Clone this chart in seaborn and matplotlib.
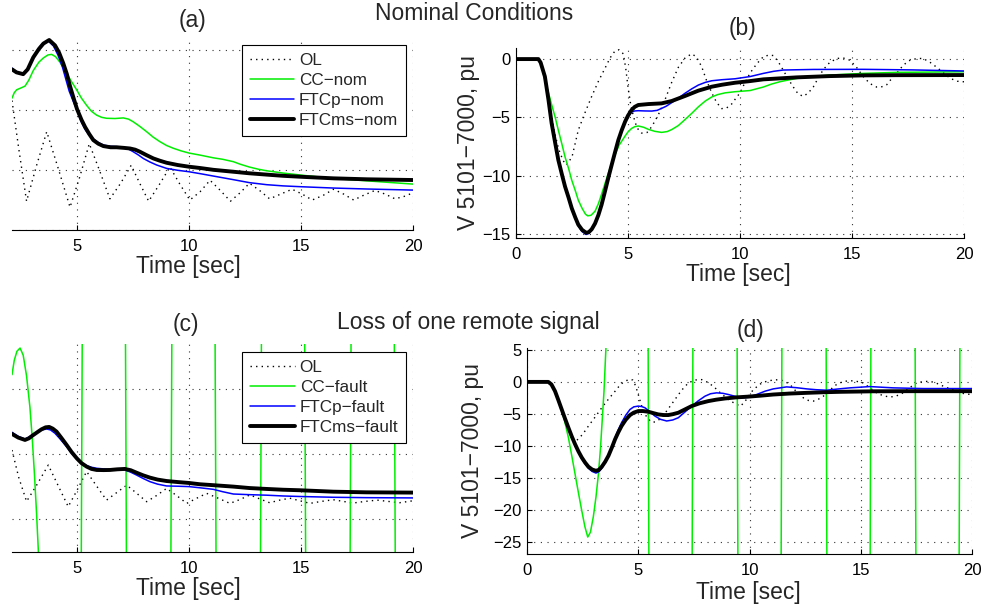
import matplotlib
matplotlib.use("Agg")
import matplotlib.pyplot as plt
import seaborn as sns

sns.set_style("white")
plt.rcParams['font.family'] = ['Liberation Sans', 'DejaVu Sans']
plt.rcParams['axes.unicode_minus'] = True

# ---------------- data ----------------
# (a) nominal conditions, left signal (axis cropped in the original)
a_ol_t = [2.1, 2.4, 2.75, 3.2, 3.65, 4.17, 4.69, 5.12, 5.55, 6.0, 6.47, 6.95, 7.42, 7.8, 8.2, 8.68,
          9.15, 9.6, 10.04, 10.5, 10.94, 11.4, 11.85, 12.28, 12.7, 13.15, 13.6, 14.1, 14.6, 15.05,
          15.5, 16.0, 16.45, 16.9, 17.35, 17.8, 18.3, 18.75, 19.2, 19.6, 20.0]
a_ol = [5.8, 1.8, -2.6, 0.4, 3.2, 0.1, -3.1, -0.6, 2.2, 0.0, -2.4, -1.1, 0.4, -1.1, -2.6, -1.2,
        0.25, -1.2, -2.5, -1.8, -0.85, -1.7, -2.6, -1.9, -1.1, -1.7, -2.4, -2.0, -1.6, -2.0,
        -2.5, -2.1, -1.6, -2.0, -2.5, -2.1, -1.7, -2.0, -2.4, -2.2, -1.9]

a_cc_t = [2.1, 2.2, 2.31, 2.5, 2.68, 2.85, 3.05, 3.3, 3.5, 3.7, 3.87, 4.05, 4.24, 4.4, 4.54, 4.75,
          5.0, 5.2, 5.43, 5.65, 5.88, 6.1, 6.32, 6.7, 7.07, 7.3, 7.51, 7.8, 8.11, 8.4, 8.71, 9.0,
          9.3, 9.65, 10.0, 10.49, 11.09, 11.5, 11.98, 12.3, 12.7, 13.1, 13.47, 14.2, 15.0, 16.45,
          17.94, 20.0]
a_cc = [6.0, 6.45, 6.7, 6.85, 7.0, 7.5, 8.3, 9.0, 9.35, 9.6, 9.65, 9.45, 9.0, 8.5, 8.05, 7.4,
        6.65, 6.0, 5.4, 4.9, 4.58, 4.4, 4.32, 4.3, 4.35, 4.25, 4.03, 3.65, 3.2, 2.75, 2.36, 2.05,
        1.82, 1.6, 1.42, 1.25, 1.02, 0.9, 0.7, 0.48, 0.25, 0.07, -0.06, -0.25, -0.42, -0.7,
        -0.9, -1.17]

a_ftcp_t = [2.1, 2.3, 2.6, 2.8, 3.05, 3.3, 3.5, 3.7, 3.95, 4.15, 4.35, 4.5, 4.65, 4.82, 5.0, 5.2,
            5.36, 5.55, 5.73, 5.95, 6.18, 6.5, 6.9, 7.2, 7.51, 7.75, 7.96, 8.25, 8.56, 9.0, 9.5,
            10.0, 10.5, 11.09, 11.98, 12.7, 13.47, 14.2, 15.0, 16.45, 17.94, 20.0]
a_ftcp = [8.5, 8.2, 8.0, 8.4, 9.45, 10.2, 10.6, 10.8, 10.35, 9.6, 8.6, 7.6, 6.6, 5.8, 5.0, 4.0,
          3.4, 2.9, 2.6, 2.3, 2.08, 1.98, 1.94, 1.85, 1.53, 1.25, 0.97, 0.68, 0.42, 0.14, -0.02,
          -0.14, -0.3, -0.5, -0.8, -1.05, -1.22, -1.32, -1.39, -1.5, -1.58, -1.67]

a_ftcms_t = [2.1, 2.3, 2.6, 2.8, 3.05, 3.3, 3.5, 3.76, 4.02, 4.2, 4.39, 4.55, 4.69, 4.85, 5.0, 5.2,
             5.36, 5.55, 5.73, 5.95, 6.18, 6.5, 6.77, 7.1, 7.37, 7.6, 7.81, 8.1, 8.41, 8.7, 9.0,
             9.5, 10.0, 10.5, 11.09, 11.98, 12.7, 13.47, 14.2, 15.0, 16.45, 17.94, 20.0]
a_ftcms = [8.4, 8.15, 8.0, 8.4, 9.4, 10.1, 10.55, 10.85, 10.4, 9.8, 8.9, 8.0, 7.0, 6.0, 5.1, 4.2,
           3.6, 3.0, 2.5, 2.2, 2.0, 1.9, 1.9, 1.85, 1.8, 1.7, 1.53, 1.25, 0.97, 0.78, 0.61,
           0.42, 0.28, 0.17, 0.02, -0.14, -0.27, -0.38, -0.48, -0.56, -0.69, -0.77, -0.83]

# (b) nominal conditions, V 5101-7000
b_ol_t = [0, 1.0, 1.15, 1.3, 1.5, 1.7, 1.9, 2.1, 2.25, 2.5, 2.78, 3.08, 3.38, 3.68, 3.97, 4.2,
          4.42, 4.6, 4.79, 4.9, 5.0, 5.12, 5.24, 5.4, 5.61, 5.85, 6.06, 6.35, 6.65, 6.95, 7.25,
          7.55, 7.84, 8.05, 8.29, 8.5, 8.74, 8.95, 9.18, 9.4, 9.63, 9.8, 10.0, 10.2, 10.45, 10.75,
          11.04, 11.3, 11.49, 11.7, 11.93, 12.15, 12.38, 12.6, 12.83, 13.05, 13.27, 13.5, 13.72,
          14.0, 14.32, 14.6, 14.91, 15.2, 15.5, 15.8, 16.1, 16.3, 16.55, 16.8, 17.0, 17.3, 17.59,
          17.9, 18.18, 18.5, 18.78, 19.1, 19.38, 19.7, 20.0]
b_ol = [0, 0, -0.5, -1.8, -4.0, -6.1, -7.7, -8.7, -9.1, -8.4, -6.1, -4.6, -3.2, -1.9, -0.8, 0.1,
        0.7, 0.8, 0.45, -0.8, -2.4, -3.9, -4.9, -5.9, -6.35, -6.3, -5.8, -4.8, -3.5, -2.0, -0.7,
        0.1, 0.45, 0.2, -0.66, -1.8, -2.9, -3.7, -4.25, -4.2, -3.85, -3.4, -2.9, -2.1, -1.2, -0.4,
        0.2, 0.35, 0.3, -0.2, -0.95, -1.7, -2.4, -3.0, -3.2, -2.9, -2.4, -1.6, -0.9,
        -0.3, 0.05, 0.1, -0.1, -0.7, -1.5, -2.1, -2.4, -2.4, -2.2, -1.6, -1.2, -0.5, -0.1,
        0.05, 0.05, -0.3, -0.7, -1.2, -1.65, -1.9, -1.95]

b_cc_t = [0, 1.0, 1.15, 1.3, 1.45, 1.59, 1.75, 1.89, 2.05, 2.19, 2.35, 2.49, 2.65, 2.78, 2.95, 3.1,
          3.2, 3.35, 3.53, 3.68, 3.82, 3.97, 4.12, 4.27, 4.42, 4.6, 4.87, 5.0, 5.16, 5.3, 5.46,
          5.7, 5.91, 6.2, 6.5, 6.75, 6.95, 7.25, 7.54, 7.85, 8.14, 8.45, 8.74, 9.0, 9.33, 9.78,
          10.45, 11.04, 11.4, 11.79, 12.2, 12.53, 13.2, 14.0, 15.5, 17.0, 20.0]
b_cc = [0, 0, -0.6, -1.9, -2.9, -3.9, -5.0, -6.1, -7.3, -8.4, -9.4, -10.4, -11.3, -12.1, -12.8, -13.3,
        -13.45, -13.4, -13.05, -12.4, -11.6, -10.7, -9.8, -8.95, -8.2, -7.4, -6.6, -6.25, -5.95, -5.8, -5.74,
        -5.85, -6.03, -6.2, -6.29, -6.22, -6.05, -5.7, -5.2, -4.65, -4.1, -3.6, -3.25, -3.05, -2.9, -2.8,
        -2.7, -2.4, -2.15, -1.94, -1.78, -1.66, -1.5, -1.37, -1.23, -1.14, -1.09]

b_ftcp_t = [0, 1.0, 1.1, 1.29, 1.45, 1.59, 1.75, 1.89, 2.05, 2.19, 2.35, 2.49, 2.65, 2.78, 2.95, 3.13,
            3.25, 3.38, 3.53, 3.68, 3.82, 3.97, 4.12, 4.27, 4.42, 4.57, 4.72, 4.87, 5.0, 5.16, 5.3,
            5.46, 5.75, 6.06, 6.3, 6.5, 6.7, 6.95, 7.25, 7.54, 7.85, 8.14, 8.45, 8.74, 9.2, 9.78,
            10.45, 11.04, 11.5, 11.93, 13.27, 15.5, 17.7, 20.0]
b_ftcp = [0, 0, -0.3, -1.55, -3.6, -5.6, -7.3, -8.75, -10.0, -11.05, -12.0, -12.9, -13.7, -14.3, -14.8, -15.05,
          -14.95, -14.65, -14.1, -13.35, -12.45, -11.3, -10.1, -9.0, -7.95, -6.95, -6.1, -5.4, -4.95, -4.55, -4.45,
          -4.43, -4.45, -4.46, -4.4, -4.23, -4.05, -3.74, -3.35, -2.94, -2.55, -2.23, -2.0, -1.86, -1.77, -1.69,
          -1.5, -1.23, -1.05, -0.94, -0.89, -0.88, -0.93, -1.02]

b_ftcms_t = [0, 1.0, 1.1, 1.29, 1.45, 1.59, 1.75, 1.89, 2.05, 2.19, 2.35, 2.49, 2.65, 2.78, 2.95, 3.13,
             3.25, 3.38, 3.53, 3.68, 3.82, 3.97, 4.12, 4.27, 4.42, 4.57, 4.72, 4.87, 5.0, 5.16, 5.3,
             5.46, 5.91, 6.5, 6.95, 7.54, 8.14, 8.74, 9.2, 9.78, 10.4, 11.04, 12.53, 14.0, 15.5,
             17.0, 20.0]
b_ftcms = [0, 0, -0.3, -1.5, -3.5, -5.5, -7.2, -8.66, -9.9, -10.94, -11.9, -12.8, -13.6, -14.2, -14.65, -14.9,
           -14.85, -14.6, -14.1, -13.37, -12.5, -11.37, -10.2, -9.09, -8.0, -6.94, -6.1, -5.37, -4.85, -4.37, -4.1,
           -3.94, -3.86, -3.8, -3.6, -3.17, -2.71, -2.37, -2.2, -2.03, -1.9, -1.74, -1.57, -1.46, -1.4,
           -1.38, -1.37]

# (c) loss of one remote signal, left signal (axis cropped in the original)
c_ol_t = [2.1, 2.4, 2.75, 3.2, 3.72, 4.15, 4.61, 5.0, 5.43, 5.85, 6.32, 6.75, 7.22, 7.65, 8.11, 8.55,
          9.0, 9.45, 9.9, 10.35, 10.79, 11.3, 11.83, 12.28, 12.72, 13.15, 13.6, 14.05, 14.5, 14.95,
          15.4, 15.9, 16.44, 16.9, 17.3, 17.85, 18.4, 18.9, 19.4, 20.0]
c_ol = [5.3, 3.2, 1.35, 2.6, 4.15, 2.6, 0.95, 2.2, 3.65, 2.6, 1.45, 2.0, 2.6, 2.0, 1.33, 1.8,
        2.35, 1.8, 1.2, 1.6, 1.97, 1.6, 1.2, 1.5, 1.85, 1.55, 1.25, 1.45, 1.6, 1.4,
        1.2, 1.35, 1.48, 1.35, 1.22, 1.35, 1.45, 1.35, 1.25, 1.4]

# CC-fault diverges: off-scale swings between the crossings seen in the picture
c_cc_t = [2.1, 2.2, 2.32, 2.46, 2.6, 2.75, 2.9, 3.0, 3.1, 3.2, 3.28, 4.2, 6.2, 8.2, 10.2, 12.2,
          14.2, 16.2, 18.2, 20.2]
c_cc = [11.1, 12.2, 12.9, 13.15, 12.6, 11.0, 8.6, 6.3, 3.5, 0.3, -2.6, -400, 400, -400, 400, -400,
        400, -400, 400, -400]

c_ftcp_t = [2.1, 2.38, 2.68, 2.85, 3.05, 3.25, 3.42, 3.65, 3.82, 4.02, 4.25, 4.54, 4.76, 4.99, 5.2,
            5.43, 5.65, 5.88, 6.2, 6.47, 6.8, 7.14, 7.4, 7.66, 7.95, 8.26, 8.6, 9.0, 9.5, 10.0,
            10.49, 11.09, 11.5, 11.98, 12.7, 13.47, 14.2, 14.95, 16.44, 17.93, 20.0]
c_ftcp = [6.67, 6.35, 6.15, 6.3, 6.5, 6.7, 6.85, 6.92, 6.85, 6.59, 6.15, 5.56, 5.05, 4.62, 4.3,
          4.1, 3.98, 3.9, 3.85, 3.8, 3.78, 3.77, 3.6, 3.38, 3.12, 2.87, 2.68, 2.54, 2.52, 2.49,
          2.4, 2.28, 2.1, 1.92, 1.87, 1.83, 1.77, 1.73, 1.67, 1.64, 1.62]

c_ftcms_t = [2.1, 2.38, 2.68, 2.85, 3.05, 3.25, 3.42, 3.6, 3.76, 3.92, 4.09, 4.3, 4.54, 4.76, 4.99,
             5.2, 5.43, 5.65, 5.88, 6.2, 6.47, 6.8, 7.14, 7.4, 7.66, 7.95, 8.26, 8.6, 9.0, 9.5,
             10.0, 10.49, 11.09, 11.98, 12.7, 13.47, 14.2, 14.95, 16.44, 17.93, 20.0]
c_ftcms = [6.54, 6.26, 6.08, 6.2, 6.46, 6.7, 6.9, 7.05, 7.08, 6.95, 6.72, 6.25, 5.69, 5.15, 4.67,
           4.3, 4.03, 3.85, 3.77, 3.76, 3.77, 3.82, 3.85, 3.75, 3.56, 3.36, 3.18, 3.03, 2.92, 2.84,
           2.77, 2.67, 2.6, 2.49, 2.38, 2.31, 2.25, 2.21, 2.1, 2.05, 2.03]

# (d) loss of one remote signal, V 5101-7000
d_ol_t = [0, 1.0, 1.15, 1.3, 1.5, 1.7, 1.9, 2.1, 2.22, 2.5, 2.76, 3.06, 3.36, 3.66, 3.96, 4.2,
          4.4, 4.6, 4.75, 4.88, 5.0, 5.12, 5.23, 5.4, 5.6, 5.8, 6.05, 6.35, 6.65, 6.95, 7.25,
          7.55, 7.85, 8.15, 8.45, 8.75, 9.05, 9.35, 9.6, 9.85, 10.17, 10.5, 10.77, 11.07, 11.37,
          11.6, 11.82, 12.1, 12.42, 12.65, 12.87, 13.1, 13.32, 13.6, 13.91, 14.2, 14.51, 14.8,
          15.11, 15.4, 15.71, 16.0, 16.31, 16.6, 16.91, 17.2, 17.51, 17.8, 18.11, 18.4, 18.71,
          19.1, 19.46, 19.75, 20.0]
d_ol = [0, 0, -0.6, -1.9, -4.0, -6.2, -7.9, -8.9, -9.2, -8.2, -6.9, -5.5, -4.04, -2.7, -1.45, -0.4,
        0.1, 0.4, 0.3, -0.6, -1.97, -3.4, -4.56, -5.6, -6.3, -6.25, -5.6, -4.2, -2.75, -1.3, -0.16,
        0.3, 0.36, -0.1, -0.93, -1.9, -2.75, -3.4, -3.8, -2.8, -1.2, -0.3, 0.1, 0.3, 0.35,
        0.05, -0.41, -1.5, -2.49, -2.9, -3.0, -2.7, -2.23, -1.3, -0.41, 0.05, 0.2, 0.1,
        -0.16, -0.9, -1.71, -2.15, -2.38, -2.2, -1.71, -0.9, -0.16, 0.05, 0.1, -0.2, -0.67,
        -1.2, -1.71, -1.9, -1.97]

d_cc_t = [0, 0.96, 1.1, 1.26, 1.41, 1.56, 1.71, 1.86, 2.01, 2.16, 2.31, 2.46, 2.6, 2.73, 2.85, 2.98,
          3.1, 3.21, 3.3, 3.38, 3.46, 3.55, 4.45, 6.45, 8.45, 10.45, 12.45, 14.45, 16.45, 18.45, 20.45]
d_cc = [0, 0, -0.4, -1.5, -2.9, -4.4, -6.4, -8.7, -11.5, -14.4, -17.3, -20.1, -22.6, -24.25, -23.5, -21.1,
        -18.0, -14.4, -10.5, -6.0, -1.5, 5.5, 1000, -1000, 1000, -1000, 1000, -1000, 1000, -1000, 1000]

d_ftcp_t = [0, 0.96, 1.1, 1.26, 1.41, 1.56, 1.71, 1.86, 2.01, 2.16, 2.31, 2.46, 2.61, 2.76, 2.93, 3.1,
            3.23, 3.36, 3.51, 3.66, 3.81, 3.96, 4.1, 4.25, 4.44, 4.63, 4.8, 5.0, 5.15, 5.3, 5.5,
            5.75, 6.0, 6.28, 6.55, 6.8, 7.1, 7.4, 7.7, 8.0, 8.25, 8.52, 8.8, 9.05, 9.35, 9.65,
            9.95, 10.32, 10.7, 11.07, 11.67, 12.1, 12.57, 13.0, 13.46, 14.0, 14.51, 15.41, 16.46,
            17.81, 20.0]
d_ftcp = [0, 0, -0.4, -1.5, -2.9, -4.35, -5.8, -7.2, -8.6, -9.85, -11.0, -12.0, -12.8, -13.5, -14.0, -14.25,
          -14.05, -13.5, -12.6, -11.55, -10.2, -8.7, -7.5, -6.37, -5.2, -4.3, -3.9, -3.78, -3.85, -4.04, -4.6,
          -5.34, -5.85, -6.11, -5.95, -5.6, -4.7, -3.78, -2.95, -2.23, -1.85, -1.71, -1.78, -1.97, -2.25, -2.5,
          -2.4, -1.97, -1.45, -1.09, -0.78, -0.9, -1.09, -1.22, -1.3, -1.1, -0.93, -0.73, -0.93,
          -1.04, -1.04]

d_ftcms_t = [0, 0.96, 1.1, 1.26, 1.41, 1.56, 1.71, 1.86, 2.01, 2.16, 2.31, 2.46, 2.61, 2.76, 2.93, 3.1,
             3.23, 3.36, 3.51, 3.66, 3.81, 3.96, 4.1, 4.25, 4.44, 4.63, 4.8, 5.0, 5.2, 5.45, 5.68,
             5.9, 6.15, 6.35, 6.55, 6.8, 7.1, 7.4, 7.75, 8.15, 8.5, 8.9, 9.4, 9.95, 10.5, 11.07,
             11.8, 12.57, 13.3, 14.07, 15.56, 17.06, 20.0]
d_ftcms = [0, 0, -0.4, -1.45, -2.85, -4.3, -5.75, -7.15, -8.5, -9.74, -10.85, -11.81, -12.6, -13.26, -13.7, -13.89,
           -13.75, -13.26, -12.5, -11.55, -10.3, -8.96, -7.9, -6.89, -5.9, -5.18, -4.8, -4.56, -4.55, -4.66, -4.88,
           -5.08, -5.18, -5.18, -5.05, -4.82, -4.3, -3.78, -3.35, -3.0, -2.78, -2.59, -2.42, -2.3, -2.15, -1.97,
           -1.82, -1.71, -1.62, -1.55, -1.47, -1.45, -1.45]

nom_labels = ["OL", "CC\u2212nom", "FTCp\u2212nom", "FTCms\u2212nom"]
fault_labels = ["OL", "CC\u2212fault", "FTCp\u2212fault", "FTCms\u2212fault"]
ylabel = "V 5101\u22127000, pu"

# ---------------- layout / styling ----------------
W, H = 984, 608
fig = plt.figure(figsize=(W / 100, H / 100), dpi=100)


def px_axes(left, top, right, bottom):
    return fig.add_axes([left / W, 1 - bottom / H, (right - left) / W, (bottom - top) / H])


ax_a = px_axes(12, 37, 413, 230)
ax_b = px_axes(516, 48, 964, 238)
ax_c = px_axes(12, 344, 413, 552)
ax_d = px_axes(527, 348, 972, 554)

styles = [
    dict(color="black", linewidth=1.0, linestyle=(0, (1, 3))),
    dict(color="#00ee00", linewidth=1.1, linestyle="-"),
    dict(color="#0000ff", linewidth=1.1, linestyle="-"),
    dict(color="black", linewidth=2.8, linestyle="-"),
]

FS_BIG = 16.5
FS_TICK = 12
FS_LEG = 12.3


def draw(ax, series, labels):
    for (t, v), lab, st in zip(series, labels, styles):
        sns.lineplot(x=t, y=v, ax=ax, sort=False, estimator=None, label=lab, **st)
    ax.grid(True, color="#333333", linestyle=(0, (1, 5)), linewidth=0.8)
    ax.set_axisbelow(True)
    for s in ["top", "right"]:
        ax.spines[s].set_visible(False)
    for s in ["left", "bottom"]:
        ax.spines[s].set_color("black")
        ax.spines[s].set_linewidth(0.8)
    ax.tick_params(direction="in", length=3.5, width=0.8, colors="black",
                   labelsize=FS_TICK, pad=6.5, bottom=True, left=True)
    ax.tick_params(axis="y", pad=4)


draw(ax_a, [(a_ol_t, a_ol), (a_cc_t, a_cc), (a_ftcp_t, a_ftcp), (a_ftcms_t, a_ftcms)], nom_labels)
draw(ax_b, [(b_ol_t, b_ol), (b_cc_t, b_cc), (b_ftcp_t, b_ftcp), (b_ftcms_t, b_ftcms)], nom_labels)
draw(ax_c, [(c_ol_t, c_ol), (c_cc_t, c_cc), (c_ftcp_t, c_ftcp), (c_ftcms_t, c_ftcms)], fault_labels)
draw(ax_d, [(d_ol_t, d_ol), (d_cc_t, d_cc), (d_ftcp_t, d_ftcp), (d_ftcms_t, d_ftcms)], fault_labels)

# left panels: y axis was cut off in the original figure
for ax in (ax_a, ax_c):
    ax.set_xlim(2.1, 20)
    ax.set_xticks([5, 10, 15, 20])
    ax.spines["left"].set_visible(False)
    ax.tick_params(axis="y", left=False, labelleft=False)
ax_a.set_ylim(-5, 11.1)
ax_a.set_yticks([-5, 0, 5, 10])
ax_c.set_ylim(-2.54, 13.46)
ax_c.set_yticks([0, 5, 10])

for ax in (ax_b, ax_d):
    ax.set_xlim(0, 20)
    ax.set_xticks([0, 5, 10, 15, 20])
ax_b.set_ylim(-15.35, 0.95)
ax_b.set_yticks([-15, -10, -5, 0])
ax_d.set_ylim(-26.9, 5.3)
ax_d.set_yticks([-25, -20, -15, -10, -5, 0, 5])

for ax in (ax_a, ax_b, ax_c, ax_d):
    ax.set_xlabel("")
    ax.set_ylabel("")

# legends (only on the left panels)
for ax, (rx, ty) in ((ax_a, (406, 45)), (ax_c, (406, 352))):
    leg = ax.legend(loc="upper right", bbox_to_anchor=(rx / W, 1 - ty / H),
                    bbox_transform=fig.transFigure, borderaxespad=0, fontsize=FS_LEG,
                    frameon=True, fancybox=False, framealpha=1, edgecolor="black",
                    handlelength=2.6, handletextpad=0.3, labelspacing=0.3, borderpad=0.45)
    leg.get_frame().set_linewidth(0.8)
for ax in (ax_b, ax_d):
    if ax.get_legend() is not None:
        ax.get_legend().remove()


def ftext(x, y, s, **kw):
    fig.text(x / W, 1 - y / H, s, ha="center", va="center", fontsize=FS_BIG, **kw)


ftext(474, 14, "Nominal Conditions")
ftext(468, 322, "Loss of one remote signal")
ftext(192, 21, "(a)")
ftext(743, 28, "(b)")
ftext(186, 325, "(c)")
ftext(750, 330, "(d)")
ftext(188, 266, "Time [sec]")
ftext(738, 275, "Time [sec]")
ftext(188, 589, "Time [sec]")
ftext(748, 593, "Time [sec]")
ftext(468, 143, ylabel, rotation=90)
ftext(472, 451, ylabel, rotation=90)

fig.savefig("out.png", dpi=100)
